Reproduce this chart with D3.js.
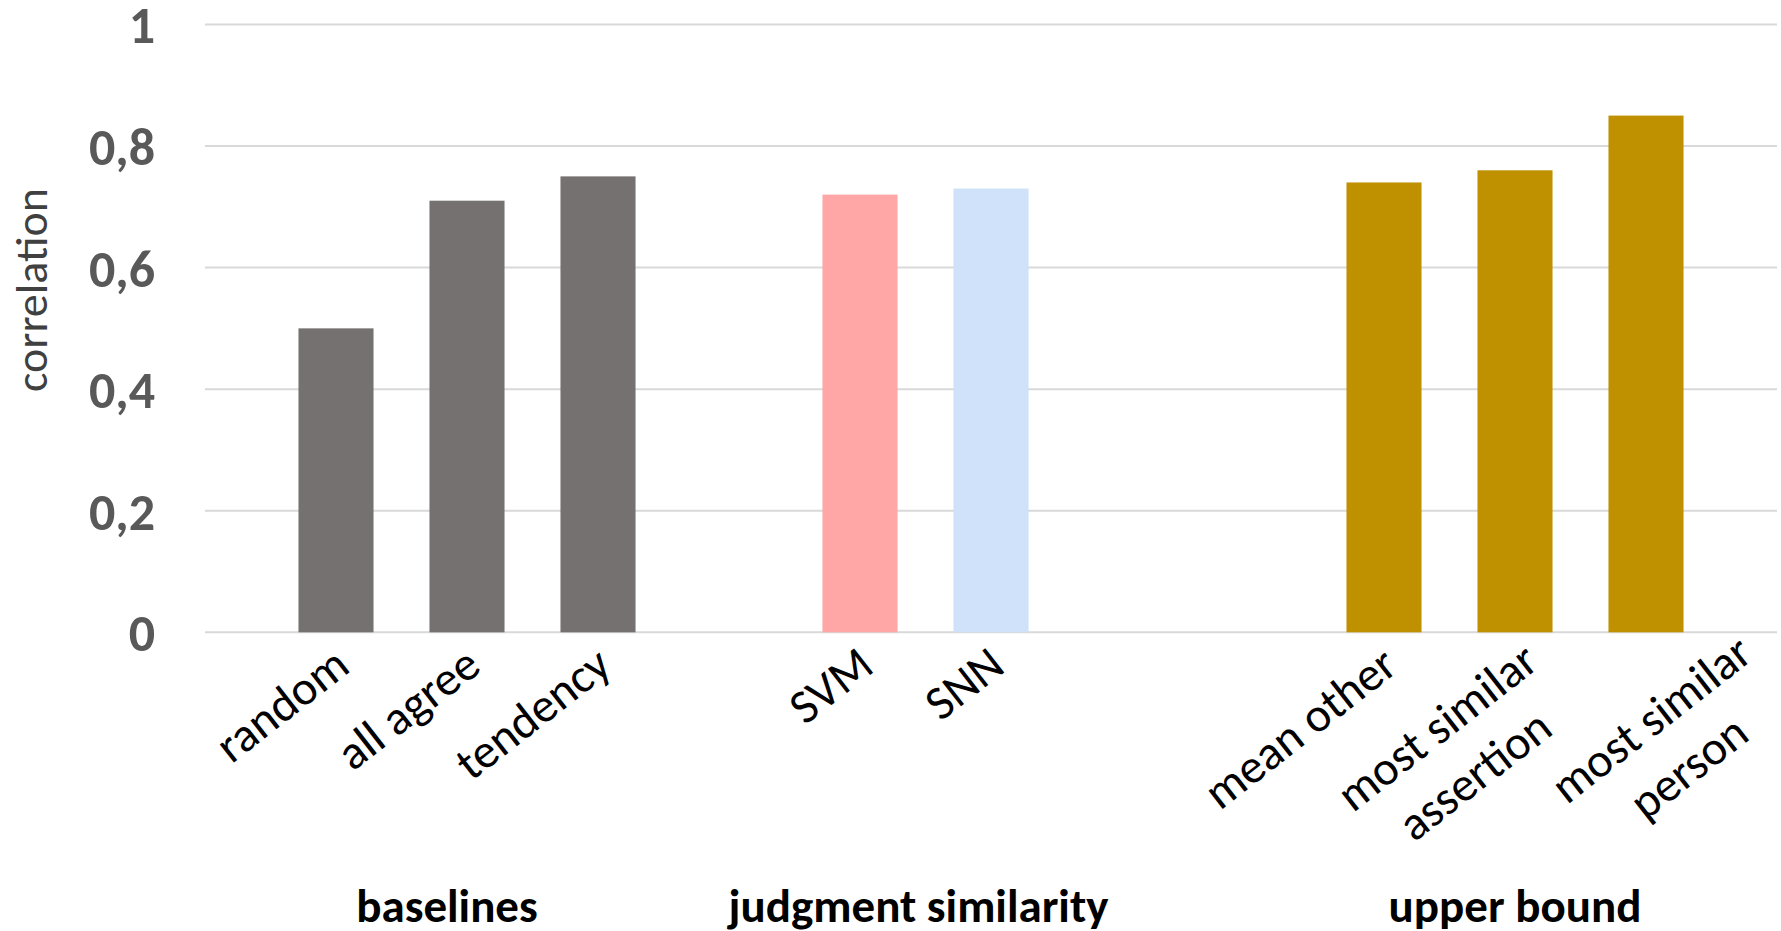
<!DOCTYPE html>
<html>
<head>
<meta charset="utf-8">
<script src="https://cdn.jsdelivr.net/npm/d3@7"></script>
<style>
  html, body { margin: 0; padding: 0; background: #ffffff; }
  svg { display: block; }
  text { font-family: Carlito, Calibri, Lato, "Open Sans", sans-serif; }
</style>
</head>
<body>
<svg id="chart" width="1781" height="931"></svg>
<script>
// ---- data ----
const categories = ["random", "all agree", "tendency", "SVM", "SNN",
                    "mean other", "most similar assertion", "most similar person"];
const values = [0.50, 0.71, 0.75, 0.72, 0.73, 0.74, 0.76, 0.85];
const groupNames = ["baselines", "judgment similarity", "upper bound"];
const groupOf = [0, 0, 0, 1, 1, 2, 2, 2];
const yTicks = [0, 0.2, 0.4, 0.6, 0.8, 1];
const yTickLabels = ["0", "0,2", "0,4", "0,6", "0,8", "1"];
const barColors = ["#767171", "#767171", "#767171", "#FFA6A6", "#CFE2F9",
                   "#BF9000", "#BF9000", "#BF9000"];

// ---- layout ----
const W = 1781, H = 931;
const plot = { left: 205, right: 1777, top: 24.4, bottom: 632.3 };
const gapSlotsAfterGroup = [1, 2];   // empty slots separating the groups
const labelAngle = -38;

// slot domain: categories with spacer slots between groups
const slots = [];
groupNames.forEach((g, gi) => {
  categories.forEach((c, i) => { if (groupOf[i] === gi) slots.push(c); });
  if (gi < gapSlotsAfterGroup.length) {
    for (let k = 0; k < gapSlotsAfterGroup[gi]; k++) slots.push(`__gap${gi}_${k}`);
  }
});

const inner = 0.427;
const x = d3.scaleBand()
  .domain(slots)
  .range([plot.left, plot.right])
  .paddingInner(inner)
  .paddingOuter((1 + inner) / 2);

const y = d3.scaleLinear().domain([0, 1]).range([plot.bottom, plot.top]);

const svg = d3.select("#chart");

// gridlines
svg.append("g")
  .selectAll("line")
  .data(yTicks)
  .join("line")
  .attr("x1", plot.left).attr("x2", plot.right)
  .attr("y1", d => y(d)).attr("y2", d => y(d))
  .attr("stroke", "#D9D9D9")
  .attr("stroke-width", 2);

// y tick labels
svg.append("g")
  .selectAll("text")
  .data(yTicks)
  .join("text")
  .attr("x", 155)
  .attr("y", d => y(d) + 19)
  .attr("text-anchor", "end")
  .attr("font-size", 52)
  .attr("font-weight", "bold")
  .attr("fill", "#595959")
  .text((d, i) => yTickLabels[i]);

// y axis title
svg.append("text")
  .attr("transform", "translate(47,290) rotate(-90)")
  .attr("text-anchor", "middle")
  .attr("font-size", 46)
  .attr("fill", "#404040")
  .text("correlation");

// bars
svg.append("g")
  .selectAll("rect")
  .data(categories)
  .join("rect")
  .attr("x", d => x(d))
  .attr("width", x.bandwidth())
  .attr("y", (d, i) => y(values[i]))
  .attr("height", (d, i) => y(0) - y(values[i]))
  .attr("fill", (d, i) => barColors[i]);

// category labels: wrapped, centred lines, rotated; the end of the
// longest line sits just right of the bar centre
function wrap(label, maxChars) {
  const words = label.split(" ");
  const lines = [];
  let cur = "";
  words.forEach(w => {
    const t = cur ? cur + " " + w : w;
    if (t.length > maxChars && cur) { lines.push(cur); cur = w; }
    else cur = t;
  });
  if (cur) lines.push(cur);
  return lines;
}

const labelFont = 48, lineGap = 61;
const catLabels = svg.append("g");
categories.forEach((c, i) => {
  const cx = x(c) + x.bandwidth() / 2;
  const lines = wrap(c, 12);
  const multi = lines.length > 1;
  const isLast = i === categories.length - 1;
  const ax = isLast ? plot.right - 22 : cx + (multi ? 26 : 16);
  const ay = plot.bottom + (isLast ? 26 : multi ? 34 : 38);
  const g = catLabels.append("g")
    .attr("transform", `translate(${ax},${ay}) rotate(${labelAngle})`);
  const texts = lines.map((ln, li) => g.append("text")
    .attr("y", li * lineGap)
    .attr("font-size", labelFont)
    .attr("fill", "#000000")
    .text(ln));
  const widths = texts.map(t => t.node().getComputedTextLength());
  const wMax = d3.max(widths);
  texts.forEach(t => t.attr("x", -wMax / 2).attr("text-anchor", "middle"));
});

// group labels, centred under their categories
const groupShift = [-20, -7, 0];
svg.append("g")
  .selectAll("text")
  .data(groupNames)
  .join("text")
  .attr("x", (g, gi) => d3.mean(categories.filter((c, i) => groupOf[i] === gi),
                                 c => x(c) + x.bandwidth() / 2) + groupShift[gi])
  .attr("y", 922)
  .attr("text-anchor", "middle")
  .attr("font-size", 47)
  .attr("font-weight", "bold")
  .attr("fill", "#000000")
  .text(d => d);
</script>
</body>
</html>
